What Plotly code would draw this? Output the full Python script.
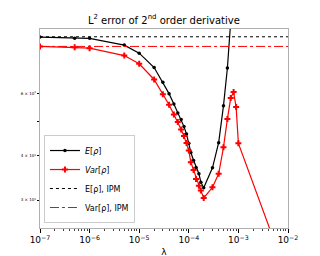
import plotly.graph_objects as go

lam_E = [1e-7, 5e-7, 1e-6, 5e-6, 1e-5, 2e-5, 3e-5, 4e-5, 5e-5, 6e-5, 7e-5, 8e-5, 9e-5,
         1e-4, 1.1e-4, 1.25e-4, 1.4e-4, 1.6e-4, 1.75e-4, 2e-4, 3e-4, 4e-4, 5e-4, 6e-4, 7e-4]
err_E = [86.7, 86.1, 86.0, 82.3, 78.1, 71.1, 64.6, 60.0, 56.1, 52.9, 50.7, 48.4, 46.1,
         43.4, 40.9, 38.8, 37.1, 35.6, 33.7, 32.5, 37.0, 43.6, 55.4, 70.9, 96.1]

lam_V = [1e-7, 5e-7, 1e-6, 5e-6, 1e-5, 2e-5, 3e-5, 4e-5, 5e-5, 6e-5, 7e-5, 8e-5, 9e-5,
         1e-4, 1.1e-4, 1.25e-4, 1.4e-4, 1.6e-4, 1.75e-4, 2e-4, 3e-4, 4e-4, 5e-4, 6e-4,
         7e-4, 8e-4, 9e-4, 1e-3, 1e-2]
err_V = [81.6, 81.1, 80.7, 76.9, 72.9, 65.8, 59.8, 55.8, 52.4, 49.9, 47.5, 45.5, 43.5,
         41.4, 38.4, 36.5, 34.4, 32.9, 31.9, 30.4, 32.6, 35.6, 42.3, 50.9,
         58.3, 60.6, 55.0, 43.4, 18.0]

ipm_E = 86.9
ipm_V = 81.6
x_span = [1e-7, 1e-2]

y_ticks = [30, 40, 50, 60]
y_ticktext = ["3 × 10<sup>1</sup>", "4 × 10<sup>1</sup>", "", "6 × 10<sup>1</sup>"]
x_ticks = [1e-7, 1e-6, 1e-5, 1e-4, 1e-3, 1e-2]
x_ticktext = ["10<sup>−7</sup>", "10<sup>−6</sup>", "10<sup>−5</sup>", "10<sup>−4</sup>",
              "10<sup>−3</sup>", "10<sup>−2</sup>"]

fig = go.Figure()
fig.add_trace(go.Scatter(x=lam_E, y=err_E, mode="lines+markers", name="<i>E</i>[<i>ρ</i>]",
                         line=dict(color="black", width=1.2),
                         marker=dict(symbol="circle", size=3.5, color="black")))
fig.add_trace(go.Scatter(x=lam_V, y=err_V, mode="lines+markers", name="<i>Var</i>[<i>ρ</i>]",
                         line=dict(color="red", width=1.2),
                         marker=dict(symbol="cross", size=5, color="red")))
fig.add_trace(go.Scatter(x=x_span, y=[ipm_E, ipm_E], mode="lines", name="E[ρ], IPM",
                         line=dict(color="black", width=1, dash="dot")))
fig.add_trace(go.Scatter(x=x_span, y=[ipm_V, ipm_V], mode="lines", name="Var[ρ], IPM",
                         line=dict(color="red", width=1, dash="dashdot")))

fig.update_layout(
    width=320, height=256,
    margin=dict(l=32, r=40, t=21, b=36, autoexpand=False),
    paper_bgcolor="white", plot_bgcolor="white",
    font=dict(family="DejaVu Sans", color="black"),
    title=dict(text="L<sup>2</sup> error of 2<sup>nd</sup> order derivative",
               x=0.487, xanchor="center", y=0.953, yanchor="middle",
               font=dict(size=10), automargin=False),
    showlegend=True,
    legend=dict(x=0.016, y=0.025, xanchor="left", yanchor="bottom",
                bgcolor="rgba(255,255,255,0.8)", bordercolor="#cccccc", borderwidth=1,
                font=dict(size=8), tracegroupgap=0, itemwidth=30),
)
fig.update_xaxes(type="log", range=[-7, -2], tickvals=x_ticks, ticktext=x_ticktext,
                 ticks="outside", ticklen=3.5, tickcolor="black", tickfont=dict(size=9),
                 showline=True, linecolor="#b0b0b0", linewidth=1.2, mirror=True,
                 showgrid=False, zeroline=False, automargin=False,
                 minor=dict(ticks="outside", ticklen=1.8, tickwidth=0.6, dtick="D1",
                            tickcolor="#444444", showgrid=False),
                 title=dict(text="λ", font=dict(size=9), standoff=4))
fig.update_yaxes(type="log", range=[1.398, 1.961], tickvals=y_ticks, ticktext=y_ticktext,
                 ticks="outside", ticklen=2, tickcolor="black", tickfont=dict(size=4),
                 showline=True, linecolor="#b0b0b0", linewidth=1.2, mirror=True,
                 showgrid=False, zeroline=False, automargin=False)

fig.write_html("out.html")
